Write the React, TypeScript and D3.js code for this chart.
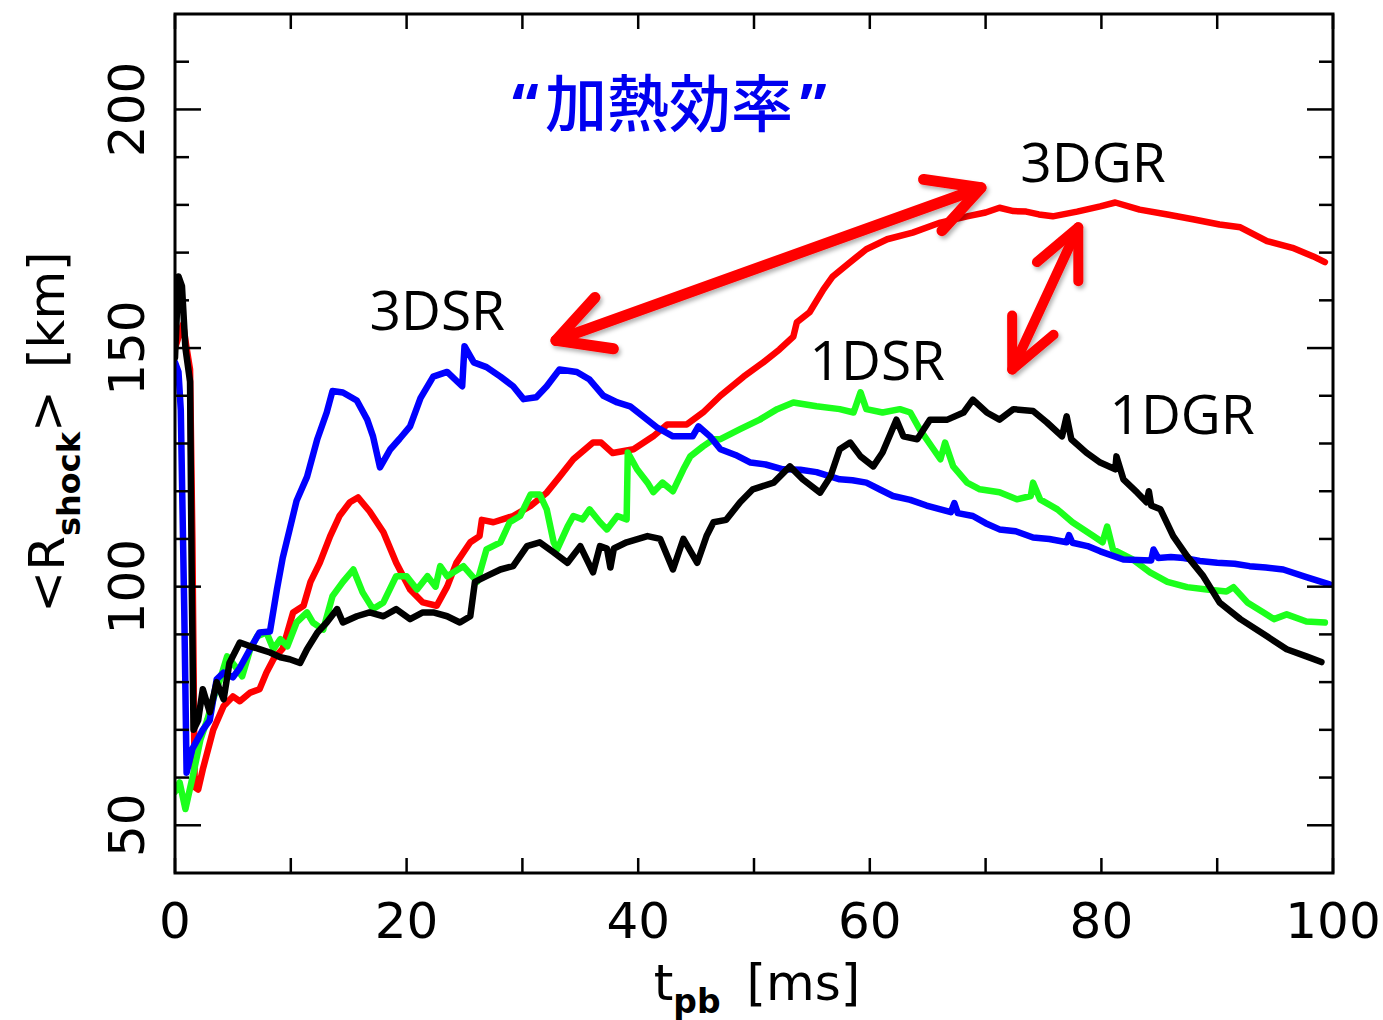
import React from 'react';
import * as d3 from 'd3';

const W = 1383;
const H = 1020;

// axis ticks
const xTickValues = [0, 10, 20, 30, 40, 50, 60, 70, 80, 90, 100];
const xTickLabels = [0, 20, 40, 60, 80, 100];
const yTickValues = [50, 60, 70, 80, 90, 100, 110, 120, 130, 140, 150, 160, 170, 180, 190, 200, 210];
const yTickLabels = [50, 100, 150, 200];

// 3DSR (blue)
const t3DSR = [0, 0.3, 0.5, 0.8, 1.0, 1.5, 2.4, 3.0, 3.6, 4.2, 5.0, 5.6, 6.5, 7.3, 8.2, 8.8, 9.3, 9.9, 10.5, 11.4, 12.3, 13.1, 13.6, 14.5, 15.7, 16.6, 17.1, 17.7, 18.6, 19.4, 20.3, 21.2, 22.3, 23.5, 24.8, 25.0, 25.8, 26.9, 28.1, 29.2, 30.1, 31.2, 32.1, 33.2, 34.7, 35.8, 37.0, 38.2, 39.3, 40.4, 41.6, 43.0, 44.7, 45.2, 46.2, 47.1, 48.4, 49.7, 51.0, 52.5, 54.0, 55.4, 57.4, 58.5, 59.7, 61.0, 62.0, 63.5, 64.9, 67.0, 67.3, 67.6, 68.9, 70.0, 71.2, 72.6, 74.1, 75.5, 77.0, 77.2, 77.5, 78.8, 79.9, 81.9, 84.3, 84.5, 84.9, 86.0, 87.1, 88.5, 90.0, 91.5, 92.8, 94.2, 95.7, 97.7, 99.7];
const r3DSR = [147, 145, 137, 95, 61, 66, 70, 72, 80.6, 82, 81, 83, 87, 90.4, 90.6, 99.4, 106, 112, 118, 123, 131, 136.5, 141, 140.7, 139, 135, 131.5, 125, 128.8, 131, 133.6, 139.5, 144, 145, 142, 150.4, 147, 146, 144, 142, 139.3, 139.7, 142, 145.5, 145, 143.4, 140, 138.6, 137.8, 135.7, 133.4, 131.5, 131.5, 133.6, 131.5, 128.8, 127.6, 126, 125.6, 124.6, 124.5, 124, 122.5, 122.3, 121.8, 120.2, 119, 118.2, 117, 115.6, 117.5, 115.4, 114.8, 113.3, 112, 111.6, 110.3, 110.0, 109.3, 110.8, 109.2, 108.5, 107.4, 105.7, 105.5, 107.8, 106, 106.2, 106, 105.4, 105, 104.8, 104.3, 104.0, 103.6, 102, 100.5];

// 3DGR (red)
const t3DGR = [0, 0.4, 0.7, 1.0, 1.3, 1.5, 1.7, 2.0, 2.4, 3.3, 4.2, 5.0, 5.6, 6.5, 7.3, 7.9, 8.5, 9.3, 10.2, 11.1, 11.7, 12.5, 13.4, 14.2, 15.1, 15.8, 16.8, 18.0, 19.1, 20.3, 21.4, 22.6, 23.5, 24.3, 25.5, 26.3, 26.5, 27.5, 29.2, 30.7, 32.1, 33.2, 34.4, 36.1, 36.8, 37.8, 39.6, 41.3, 42.5, 44.2, 45.6, 47.1, 49.1, 50.8, 52.2, 53.4, 53.7, 54.8, 56.0, 56.8, 58.3, 59.7, 61.5, 63.7, 66.1, 68.4, 70.0, 71.2, 72.4, 73.5, 74.6, 75.8, 77.9, 79.9, 81.2, 83.3, 85.7, 87.9, 90.2, 92.0, 94.3, 96.5, 98.3, 99.3];
const r3DGR = [150, 153, 155, 150, 145.5, 110, 58, 57.5, 61.7, 70, 75, 77, 76, 77.8, 78.5, 82, 84.8, 87, 94.6, 96, 101, 105, 110.6, 114.8, 117.7, 118.7, 115.8, 111.4, 105, 99.4, 96.7, 96, 100, 105, 109.3, 110.6, 114, 113.5, 114.8, 116.9, 119.7, 123, 126.7, 130.2, 130.2, 128, 128.8, 131.5, 134, 134, 136.5, 140, 144, 147, 149.7, 152.4, 155.4, 157.5, 162.3, 165, 168, 170.7, 172.8, 174.2, 176.3, 177.6, 178.4, 179.4, 178.7, 178.6, 178.0, 177.6, 178.6, 179.7, 180.5, 179, 178, 177, 175.9, 175.3, 172.4, 171, 169.2, 168];

// 1DGR (black)
const t1DGR = [0, 0.3, 0.6, 0.9, 1.3, 1.45, 1.6, 2.0, 2.4, 3.0, 3.6, 4.2, 4.7, 5.6, 6.5, 7.3, 8.2, 9.1, 9.9, 10.8, 11.4, 12.3, 13.1, 14.0, 14.5, 15.7, 16.8, 18.0, 19.1, 20.3, 21.4, 22.3, 23.5, 24.6, 25.5, 25.9, 26.9, 28.1, 29.2, 30.4, 31.5, 32.7, 33.9, 35.0, 36.1, 36.7, 37.3, 37.6, 37.9, 39.0, 40.8, 41.9, 43.0, 43.9, 45.1, 45.9, 46.5, 47.6, 48.8, 49.9, 51.7, 53.1, 54.2, 55.7, 56.6, 57.4, 58.3, 59.2, 60.3, 61.1, 62.3, 62.9, 64.1, 65.2, 66.7, 68.1, 68.9, 70.1, 71.2, 72.4, 74.1, 75.3, 76.6, 77.0, 77.4, 78.7, 79.9, 81.2, 81.3, 81.9, 83.1, 83.9, 84.1, 84.3, 85.1, 86.2, 87.4, 88.8, 90.2, 92.0, 94.3, 96.0, 97.7, 99.0];
const r1DGR = [148, 165, 163, 150, 143, 100, 70, 72, 78.5, 73.7, 80, 76.4, 84, 88.3, 87.5, 86.9, 86.2, 85.2, 84.8, 84, 86.9, 90.4, 92.5, 95.3, 92.5, 93.8, 94.6, 93.8, 95.3, 93.2, 94.6, 94.6, 93.8, 92.5, 93.8, 101, 102.2, 103.6, 104.3, 108.5, 109.3, 107.2, 105, 108.5, 103, 108.5, 108, 104, 108, 109.3, 110.6, 110, 103.6, 110, 105, 110.6, 113.5, 114, 117.7, 120.4, 121.8, 125.2, 122.5, 119.7, 123.1, 128.8, 130.2, 127.3, 125.2, 128.1, 135, 131.5, 130.9, 135, 135, 136.5, 139.2, 136.5, 135, 137.2, 136.8, 134.4, 131.5, 135.7, 130.9, 128.1, 126, 124.6, 127.3, 122.5, 119.7, 117.7, 120, 117, 116.2, 110.6, 106.4, 102.2, 96.7, 93.2, 89.6, 86.9, 85.4, 84.2];

// 1DSR (green)
const t1DSR = [0, 0.4, 0.9, 1.6, 2.2, 2.8, 3.3, 3.9, 4.5, 5.2, 5.8, 6.5, 7.1, 7.9, 8.5, 9.1, 9.7, 10.5, 11.4, 11.9, 12.8, 13.6, 14.5, 15.4, 16.2, 17.1, 18.0, 19.1, 20.0, 20.9, 21.8, 22.5, 22.9, 23.5, 24.9, 26.1, 26.9, 28.1, 28.9, 29.8, 30.7, 31.5, 32.1, 32.7, 33.0, 33.9, 34.4, 35.2, 35.8, 36.7, 37.3, 38.2, 39.0, 39.1, 39.9, 40.8, 41.3, 42.1, 43.0, 43.9, 44.5, 45.6, 46.5, 47.1, 48.8, 50.5, 52.0, 53.4, 55.4, 57.4, 58.6, 59.2, 59.7, 61.1, 62.6, 63.5, 64.3, 65.5, 66.1, 66.5, 67.2, 68.4, 69.5, 71.2, 72.7, 73.9, 74.1, 74.7, 76.2, 77.5, 79.3, 80.1, 80.5, 81.0, 82.7, 84.2, 85.7, 87.4, 89.1, 90.8, 91.4, 92.6, 94.0, 94.9, 96.0, 97.7, 99.3];
const r1DSR = [57, 59, 53.4, 61, 68, 72.2, 76.4, 80.6, 85.4, 83.3, 81.2, 86.9, 89.6, 90.4, 86.9, 89, 87.5, 92.5, 94.6, 92.5, 91, 98, 101, 103.6, 98.8, 95.3, 96.7, 102.2, 102.2, 99.4, 102.2, 100, 104.3, 102.2, 104.3, 101, 107.8, 109.3, 113.5, 114.8, 119.3, 119.3, 116.2, 109.3, 107.8, 112.6, 114.8, 114.1, 116.2, 113.5, 112, 114.8, 114.1, 128.1, 124.6, 121.8, 119.8, 121.8, 120, 124.6, 127.3, 129.4, 130.9, 130.9, 133, 135, 137.2, 138.6, 137.8, 137.2, 136.5, 140.7, 137.2, 136.5, 137.2, 136.5, 133, 128.8, 126.7, 130.2, 125.2, 121.8, 120.4, 119.8, 118.3, 119, 121.8, 118.3, 116.2, 113.5, 110.6, 109.3, 112.6, 107.8, 105.7, 103, 101, 99.9, 99.4, 99, 99.9, 96.7, 94.6, 93.2, 94.2, 92.7, 92.5];

const seriesNames = ['3DGR', '1DSR', '3DSR', '1DGR'];
const seriesColors = ['#ff0000', '#1cff1c', '#0000ff', '#000000'];
const seriesT = [t3DGR, t1DSR, t3DSR, t1DGR];
const seriesR = [r3DGR, r1DSR, r3DSR, r1DGR];

// text annotations (data coordinates of text start / baseline)
const labelTexts = ['3DSR', '3DGR', '1DSR', '1DGR'];
const labelT = [16.8, 73.0, 54.8, 80.7];
const labelR = [153.7, 184.9, 143.4, 131.9];

// arrows (data coordinates of the two tips)
const arrowFromT = [32.9, 78.0];
const arrowFromR = [151.6, 175.3];
const arrowToT = [69.6, 72.3];
const arrowToR = [183.6, 145.5];

const titleMain = '加熱効率';

export default function App() {
  const x = d3.scaleLinear().domain([0, 100]).range([175, 1333]);
  const y = d3.scaleLinear().domain([40, 220]).range([873, 14]);
  const [x0, x1] = x.range();
  const [y0, y1] = y.range();

  const line = d3
    .line<[number, number]>()
    .x((d) => x(d[0]))
    .y((d) => y(d[1]))
    .curve(d3.curveLinear);

  const tickFont = "'DejaVu Sans', sans-serif";
  const annFont = "'Open Sans', 'Noto Sans', sans-serif";

  const head = (tx: number, ty: number, fx: number, fy: number, len: number, ang: number) => {
    const a = Math.atan2(fy - ty, fx - tx);
    const p1 = [tx + len * Math.cos(a + ang), ty + len * Math.sin(a + ang)];
    const p2 = [tx + len * Math.cos(a - ang), ty + len * Math.sin(a - ang)];
    return `M${p1[0]},${p1[1]} L${tx},${ty} L${p2[0]},${p2[1]}`;
  };

  return (
    <svg width={W} height={H} style={{ position: 'absolute', left: 0, top: 0, background: '#fff' }}>
      <defs>
        <filter id="sh" x="-20%" y="-20%" width="140%" height="140%">
          <feDropShadow dx="2" dy="3" stdDeviation="2" floodColor="#000" floodOpacity="0.3" />
        </filter>
        <clipPath id="plot">
          <rect x={x0} y={y1} width={x1 - x0} height={y0 - y1} />
        </clipPath>
      </defs>

      {/* curves */}
      <g clipPath="url(#plot)">
        {seriesNames.map((n, i) => (
          <path
            key={n}
            d={line(seriesT[i].map((t, j) => [t, seriesR[i][j]] as [number, number])) || ''}
            fill="none"
            stroke={seriesColors[i]}
            strokeWidth={6.5}
            strokeLinejoin="round"
            strokeLinecap="round"
          />
        ))}
      </g>

      {/* frame */}
      <rect x={x0} y={y1} width={x1 - x0} height={y0 - y1} fill="none" stroke="#000" strokeWidth={3} />

      {/* x ticks */}
      {xTickValues.map((v) => (
        <g key={'xt' + v}>
          <line x1={x(v)} x2={x(v)} y1={y0} y2={y0 - 15} stroke="#000" strokeWidth={2.5} />
          <line x1={x(v)} x2={x(v)} y1={y1} y2={y1 + 15} stroke="#000" strokeWidth={2.5} />
        </g>
      ))}
      {/* y ticks */}
      {yTickValues.map((v) => {
        const len = v % 50 === 0 ? 26 : 14;
        return (
          <g key={'yt' + v}>
            <line x1={x0} x2={x0 + len} y1={y(v)} y2={y(v)} stroke="#000" strokeWidth={2.5} />
            <line x1={x1} x2={x1 - len} y1={y(v)} y2={y(v)} stroke="#000" strokeWidth={2.5} />
          </g>
        );
      })}

      {/* x tick labels */}
      {xTickLabels.map((v) => (
        <text key={'xl' + v} x={x(v)} y={938} textAnchor="middle" fontFamily={tickFont} fontSize={50}>
          {v}
        </text>
      ))}
      {/* y tick labels */}
      {yTickLabels.map((v) => (
        <text
          key={'yl' + v}
          transform={`translate(144,${y(v)}) rotate(-90)`}
          textAnchor="middle"
          fontFamily={tickFont}
          fontSize={50}
        >
          {v}
        </text>
      ))}

      {/* x axis title */}
      <text x={757} y={1000} textAnchor="middle" fontFamily={tickFont} fontSize={50}>
        <tspan>t</tspan>
        <tspan dy={13} fontSize={33} fontWeight="bold">pb</tspan>
        <tspan dy={-13} dx={26}>[ms]</tspan>
      </text>

      {/* y axis title */}
      <text transform={`translate(64,432) rotate(-90)`} textAnchor="middle" fontFamily={tickFont} fontSize={50}>
        <tspan>&lt;R</tspan>
        <tspan dy={16} fontSize={32} fontWeight="bold">shock</tspan>
        <tspan dy={-16}>&gt;</tspan>
        <tspan dx={22}>[km]</tspan>
      </text>

      {/* title */}
      <text x={512} y={128} fill="#0000f0" fontFamily={annFont} fontSize={60} fontWeight="bold">
        “
      </text>
      <text x={545} y={127} fill="#0000f0" fontFamily="'Noto Sans CJK JP', sans-serif" fontSize={62} fontWeight={500}>
        {titleMain}
      </text>
      <text x={800} y={128} fill="#0000f0" fontFamily={annFont} fontSize={60} fontWeight="bold">
        ”
      </text>

      {/* annotations */}
      {labelTexts.map((s, i) => (
        <text key={s} x={x(labelT[i])} y={y(labelR[i])} fontFamily={annFont} fontSize={55} fill="#000">
          {s}
        </text>
      ))}

      {/* arrows */}
      <g filter="url(#sh)" stroke="#ff0000" fill="none" strokeLinecap="round" strokeLinejoin="round">
        {arrowFromT.map((_, i) => {
          const ax = x(arrowFromT[i]);
          const ay = y(arrowFromR[i]);
          const bx = x(arrowToT[i]);
          const by = y(arrowToR[i]);
          const len = i === 0 ? 58 : 54;
          const ang = (i === 0 ? 28 : 25) * (Math.PI / 180);
          const sw = i === 0 ? 11 : 10;
          return (
            <g key={'ar' + i} strokeWidth={sw}>
              <path d={`M${ax},${ay} L${bx},${by}`} />
              <path d={head(ax, ay, bx, by, len, ang)} />
              <path d={head(bx, by, ax, ay, len, ang)} />
            </g>
          );
        })}
      </g>
    </svg>
  );
}
